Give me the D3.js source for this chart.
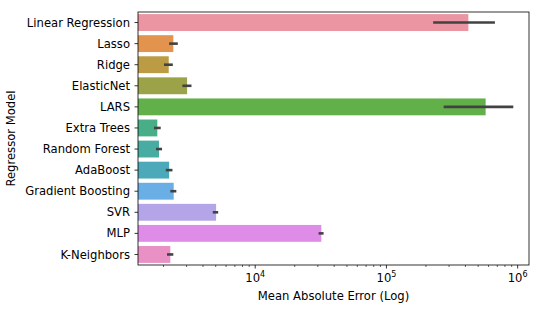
<!DOCTYPE html>
<html>
<head>
<meta charset="utf-8">
<script src="https://cdn.jsdelivr.net/npm/d3@7"></script>
<style>
  body { margin: 0; background: #fff; }
  text { font-family: "DejaVu Sans", sans-serif; fill: #000; }
</style>
</head>
<body>
<svg id="chart" width="540" height="311"></svg>
<script>
// regressor models and their mean absolute error (mean + CI bounds)
const models = ["Linear Regression", "Lasso", "Ridge", "ElasticNet", "LARS", "Extra Trees",
  "Random Forest", "AdaBoost", "Gradient Boosting", "SVR", "MLP", "K-Neighbors"];
const maeMean = [421000, 2377, 2193, 3027, 570000, 1795, 1849, 2208, 2393, 5035, 31900, 2256];
const maeLow  = [227000, 2208, 2018, 2786, 273000, 1693, 1754, 2082, 2256, 4750, 30400, 2128];
const maeHigh = [671000, 2572, 2356, 3268, 926000, 1905, 1950, 2341, 2506, 5222, 33200, 2377];
const majorTicks = [1e4, 1e5, 1e6];
const barColors = ["#ea95a1", "#e2944f", "#bc9b45", "#9ca247", "#62b04a", "#48ae88",
  "#49aca2", "#4ba9b9", "#6aaee6", "#b4a5e8", "#de8ce8", "#e990c5"];

const data = models.map((m, i) => ({model: m, mean: maeMean[i], lo: maeLow[i], hi: maeHigh[i]}));

const svg = d3.select("#chart");
const margin = {top: 12, right: 11, bottom: 46, left: 138};
const width = 540 - margin.left - margin.right;
const height = 311 - margin.top - margin.bottom;
const fs = "11.6px";

const g = svg.append("g").attr("transform", `translate(${margin.left},${margin.top})`);

const x = d3.scaleLog().domain([1279, 1.22e6]).range([0, width]);
const y = d3.scaleBand().domain(models).range([0, height]).paddingInner(0.2).paddingOuter(0.1);

// bars (start at the left edge, like seaborn does on a log axis)
g.selectAll(".bar").data(data).enter().append("rect")
  .attr("class", "bar")
  .attr("x", 0)
  .attr("y", d => y(d.model))
  .attr("width", d => x(d.mean))
  .attr("height", y.bandwidth())
  .attr("fill", (d, i) => barColors[i]);

// error bars
g.selectAll(".err").data(data).enter().append("line")
  .attr("class", "err")
  .attr("x1", d => x(d.lo))
  .attr("x2", d => x(d.hi))
  .attr("y1", d => y(d.model) + y.bandwidth() / 2)
  .attr("y2", d => y(d.model) + y.bandwidth() / 2)
  .attr("stroke", "#424242")
  .attr("stroke-width", 2.6);

// x axis: major ticks with 10^n labels
const xAxis = g.append("g").attr("transform", `translate(0,${height})`);
const minorTicks = x.ticks().filter(t => !majorTicks.includes(t) && t > x.domain()[0] && t < x.domain()[1]);
xAxis.selectAll(".minor").data(minorTicks).enter().append("line")
  .attr("x1", d => x(d)).attr("x2", d => x(d))
  .attr("y1", 0).attr("y2", 2)
  .attr("stroke", "#000").attr("stroke-width", 0.6);
xAxis.selectAll(".major").data(majorTicks).enter().append("line")
  .attr("x1", d => x(d)).attr("x2", d => x(d))
  .attr("y1", 0).attr("y2", 3.5)
  .attr("stroke", "#000").attr("stroke-width", 0.8);
const xl = xAxis.selectAll(".xlab").data(majorTicks).enter().append("text")
  .attr("x", d => x(d))
  .attr("y", 17)
  .attr("text-anchor", "middle")
  .style("font-size", fs);
xl.append("tspan").text("10");
xl.append("tspan").attr("dy", -5.5).style("font-size", "8px").text(d => Math.round(Math.log10(d)));

// y axis
const yAxis = g.append("g");
yAxis.selectAll(".ytick").data(models).enter().append("line")
  .attr("x1", -3.5).attr("x2", 0)
  .attr("y1", d => y(d) + y.bandwidth() / 2)
  .attr("y2", d => y(d) + y.bandwidth() / 2)
  .attr("stroke", "#000").attr("stroke-width", 0.8);
yAxis.selectAll(".ylab").data(models).enter().append("text")
  .attr("x", -8)
  .attr("y", d => y(d) + y.bandwidth() / 2)
  .attr("dy", "0.35em")
  .attr("text-anchor", "end")
  .style("font-size", fs)
  .text(d => d);

// frame
g.append("rect")
  .attr("width", width).attr("height", height)
  .attr("fill", "none").attr("stroke", "#000").attr("stroke-width", 0.8);

// axis titles
svg.append("text")
  .attr("x", margin.left + width / 2)
  .attr("y", 300)
  .attr("text-anchor", "middle")
  .style("font-size", fs)
  .text("Mean Absolute Error (Log)");
svg.append("text")
  .attr("transform", `translate(15,${margin.top + height / 2}) rotate(-90)`)
  .attr("text-anchor", "middle")
  .style("font-size", fs)
  .text("Regressor Model");
</script>
</body>
</html>
